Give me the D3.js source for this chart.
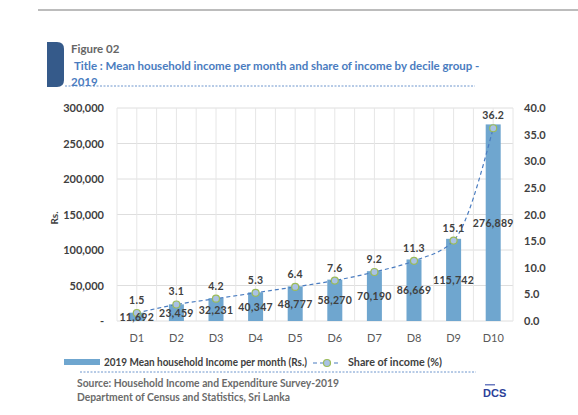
<!DOCTYPE html>
<html>
<head>
<meta charset="utf-8">
<script src="https://cdn.jsdelivr.net/npm/d3@7"></script>
<style>
  body { margin: 0; background: #fff; }
  svg { display: block; font-family: Lato, "Open Sans", sans-serif; }
</style>
</head>
<body>
<script>
// data
var deciles = ["D1", "D2", "D3", "D4", "D5", "D6", "D7", "D8", "D9", "D10"];
var meanIncome = [11692, 23459, 32231, 40347, 48777, 58270, 70190, 86669, 115742, 276889];
var shareIncome = [1.5, 3.1, 4.2, 5.3, 6.4, 7.6, 9.2, 11.3, 15.1, 36.2];
var leftTicks = [0, 50000, 100000, 150000, 200000, 250000, 300000];
var rightTicks = [0, 5, 10, 15, 20, 25, 30, 35, 40];

var W = 578, H = 415;
var plot = {left: 117, right: 513, top: 108, bottom: 321};

var svg = d3.select("body").append("svg")
    .attr("width", W)
    .attr("height", H);

// header
svg.append("line")
    .attr("x1", 38).attr("x2", W).attr("y1", 10).attr("y2", 10)
    .style("stroke", "#a6a6a6").style("stroke-width", 1.5);

svg.append("path")
    .attr("d", "M47,42 H57 Q64,42 64,49 V80 Q64,87 57,87 H47 Z")
    .style("fill", "#355a8a");

svg.append("text").attr("x", 71).attr("y", 53)
    .style("font-size", "11.5px").style("font-weight", "bold").style("fill", "#666")
    .text("Figure 02");
svg.append("text").attr("x", 74).attr("y", 70)
    .style("font-size", "11.5px").style("font-weight", "bold").style("fill", "#4a7cc0")
    .text("Title : Mean household income per month and share of income by decile group -");
svg.append("text").attr("x", 71).attr("y", 86)
    .style("font-size", "11.5px").style("font-weight", "bold").style("fill", "#4a7cc0")
    .text("2019");
svg.append("line")
    .attr("x1", 65).attr("x2", 475).attr("y1", 86).attr("y2", 86)
    .style("stroke", "#4a7cc0").style("stroke-width", 0.8).style("stroke-dasharray", "2,1.5");

// scales
var x = d3.scaleBand()
    .domain(deciles)
    .range([plot.left, plot.right]);

var yL = d3.scaleLinear().domain([0, 300000]).range([plot.bottom, plot.top]);
var yR = d3.scaleLinear().domain([0, 40]).range([plot.bottom, plot.top]);

// gridlines
var g = svg.append("g");
g.selectAll(".hgrid")
    .data(leftTicks)
    .enter().append("line")
    .attr("x1", plot.left).attr("x2", plot.right)
    .attr("y1", function(d) { return yL(d); })
    .attr("y2", function(d) { return yL(d); })
    .style("stroke", "#dedede").style("stroke-width", 1);

var vlines = [];
deciles.forEach(function(d) {
    vlines.push(x(d));
    vlines.push(x(d) + x.bandwidth() / 2);
});
vlines.push(plot.right);
g.selectAll(".vgrid")
    .data(vlines)
    .enter().append("line")
    .attr("x1", function(d) { return d; })
    .attr("x2", function(d) { return d; })
    .attr("y1", plot.top).attr("y2", plot.bottom)
    .style("stroke", "#e6e6e6").style("stroke-width", 1);

// axes
var leftAxis = d3.axisLeft(yL)
    .tickValues(leftTicks)
    .tickSize(0)
    .tickPadding(13)
    .tickFormat(function(d) { return d === 0 ? "-" : d3.format(",")(d); });
var la = svg.append("g").attr("transform", "translate(" + plot.left + ",0)").call(leftAxis);

var rightAxis = d3.axisRight(yR)
    .tickValues(rightTicks)
    .tickSize(0)
    .tickPadding(11)
    .tickFormat(d3.format(".1f"));
var ra = svg.append("g").attr("transform", "translate(" + plot.right + ",0)").call(rightAxis);

var bottomAxis = d3.axisBottom(x).tickSize(0).tickPadding(13);
var ba = svg.append("g").attr("transform", "translate(0," + plot.bottom + ")").call(bottomAxis);

[la, ra, ba].forEach(function(a) { a.select(".domain").remove(); });
la.selectAll("text").style("font-size", "11px").style("font-weight", "bold").style("fill", "#404040")
    .style("font-family", "Lato, sans-serif");
ra.selectAll("text").style("font-size", "11px").style("font-weight", "bold").style("fill", "#404040")
    .style("font-family", "Lato, sans-serif");
ba.selectAll("text").style("font-size", "11px").style("fill", "#595959")
    .style("font-family", "Lato, sans-serif");

svg.append("text")
    .attr("transform", "translate(58,218) rotate(-90)")
    .attr("text-anchor", "middle")
    .style("font-size", "10px").style("font-weight", "bold").style("fill", "#404040")
    .text("Rs.");

// bars
var barW = 15;
svg.selectAll(".bar")
    .data(meanIncome)
    .enter().append("rect")
    .attr("x", function(d, i) { return x(deciles[i]) + x.bandwidth() / 2 - barW / 2; })
    .attr("y", function(d) { return yL(d); })
    .attr("width", barW)
    .attr("height", function(d) { return yL(0) - yL(d); })
    .style("fill", "#6fa6cf");

// share line
var line = d3.line()
    .x(function(d, i) { return x(deciles[i]) + x.bandwidth() / 2; })
    .y(function(d) { return yR(d); })
    .curve(d3.curveMonotoneX);

svg.append("path")
    .datum(shareIncome)
    .attr("d", line)
    .style("fill", "none")
    .style("stroke", "#4a7cc0")
    .style("stroke-width", 1.2)
    .style("stroke-dasharray", "4,3");

svg.selectAll(".dot")
    .data(shareIncome)
    .enter().append("circle")
    .attr("cx", function(d, i) { return x(deciles[i]) + x.bandwidth() / 2; })
    .attr("cy", function(d) { return yR(d); })
    .attr("r", 3.5)
    .style("fill", "#a9c2e4")
    .style("stroke", "#9bbb59")
    .style("stroke-width", 1.2);

// labels
svg.selectAll(".vlab")
    .data(meanIncome)
    .enter().append("text")
    .attr("x", function(d, i) { return x(deciles[i]) + x.bandwidth() / 2; })
    .attr("y", function(d) { return (yL(d) + yL(0)) / 2 + 4; })
    .attr("text-anchor", "middle")
    .style("font-size", "10.5px").style("font-weight", "bold").style("fill", "#404040")
    .style("letter-spacing", "0.3px")
    .text(function(d) { return d3.format(",")(d); });

svg.selectAll(".plab")
    .data(shareIncome)
    .enter().append("text")
    .attr("x", function(d, i) { return x(deciles[i]) + x.bandwidth() / 2; })
    .attr("y", function(d) { return yR(d) - 9; })
    .attr("text-anchor", "middle")
    .style("font-size", "10.5px").style("font-weight", "bold").style("fill", "#404040")
    .style("letter-spacing", "0.3px")
    .text(function(d) { return d.toFixed(1); });

// legend
svg.append("rect").attr("x", 64).attr("y", 359).attr("width", 36).attr("height", 6)
    .style("fill", "#6fa6cf");
svg.append("text").attr("x", 104).attr("y", 366)
    .attr("textLength", 203).attr("lengthAdjust", "spacingAndGlyphs")
    .style("font-size", "11px").style("font-weight", "bold").style("fill", "#404040")
    .text("2019 Mean household Income per month (Rs.)");
svg.append("line").attr("x1", 313).attr("x2", 341).attr("y1", 363).attr("y2", 363)
    .style("stroke", "#4a7cc0").style("stroke-width", 1.2).style("stroke-dasharray", "4,3");
svg.append("circle").attr("cx", 327).attr("cy", 363).attr("r", 3.5)
    .style("fill", "#a9c2e4").style("stroke", "#9bbb59").style("stroke-width", 1.2);
svg.append("text").attr("x", 348).attr("y", 366)
    .attr("textLength", 94).attr("lengthAdjust", "spacingAndGlyphs")
    .style("font-size", "11px").style("font-weight", "bold").style("fill", "#404040")
    .text("Share of income (%)");

svg.append("line")
    .attr("x1", 80).attr("x2", 476).attr("y1", 372).attr("y2", 372)
    .style("stroke", "#4a7cc0").style("stroke-width", 0.8).style("stroke-dasharray", "2,1.5");

// source
svg.append("text").attr("x", 77).attr("y", 387)
    .attr("textLength", 262).attr("lengthAdjust", "spacingAndGlyphs")
    .style("font-size", "10.5px").style("font-weight", "bold").style("fill", "#6b6b6b")
    .text("Source: Household Income and Expenditure Survey-2019");
svg.append("text").attr("x", 77).attr("y", 401)
    .attr("textLength", 213).attr("lengthAdjust", "spacingAndGlyphs")
    .style("font-size", "10.5px").style("font-weight", "bold").style("fill", "#6b6b6b")
    .text("Department of Census and Statistics, Sri Lanka");

// logo
svg.append("rect").attr("x", 485).attr("y", 384).attr("width", 10).attr("height", 1.5)
    .style("fill", "#6b7bc0");
svg.append("text").attr("x", 483).attr("y", 397)
    .style("font-size", "11px").style("font-weight", "bold").style("fill", "#2b3f99")
    .style("font-family", "Arial, 'Liberation Sans', sans-serif")
    .text("DCS");
</script>
</body>
</html>
